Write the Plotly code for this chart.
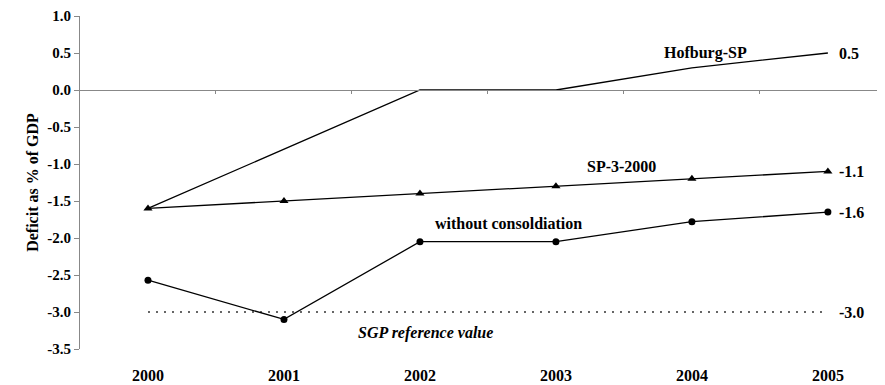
import plotly.graph_objects as go

years = ["2000", "2001", "2002", "2003", "2004", "2005"]
hofburg = [-1.6, -0.8, 0.0, 0.0, 0.3, 0.5]
sp_3_2000 = [-1.6, -1.5, -1.4, -1.3, -1.2, -1.1]
without_cons = [-2.57, -3.1, -2.05, -2.05, -1.78, -1.65]
sgp_ref = [-3.0] * 6
end_labels = ["0.5", "-1.1", "-1.6", "-3.0"]
y_ticks = [1.0, 0.5, 0.0, -0.5, -1.0, -1.5, -2.0, -2.5, -3.0, -3.5]

FONT = "Liberation Serif"
xi = list(range(len(years)))
Y0, Y1 = -3.5, 1.0

fig = go.Figure()
fig.add_trace(go.Scatter(x=xi, y=sgp_ref, mode="lines",
                         line=dict(color="#333333", width=1.3, dash="2px,6px"), showlegend=False))
fig.add_trace(go.Scatter(x=xi, y=hofburg, mode="lines",
                         line=dict(color="black", width=1.3), showlegend=False))
fig.add_trace(go.Scatter(x=xi, y=sp_3_2000, mode="lines+markers",
                         line=dict(color="black", width=1.3),
                         marker=dict(symbol="triangle-up", size=8, color="black"), showlegend=False))
fig.add_trace(go.Scatter(x=xi, y=without_cons, mode="lines+markers",
                         line=dict(color="black", width=1.3),
                         marker=dict(symbol="circle", size=7, color="black"), showlegend=False))

bold = dict(family=FONT, size=16, color="black", weight="bold")
annos = [
    dict(x=4.1, y=0.5, text="Hofburg-SP"),
    dict(x=3.48, y=-1.03, text="SP-3-2000"),
    dict(x=2.65, y=-1.81, text="without consoldiation"),
    dict(x=2.04, y=-3.28, text="<i>SGP reference value</i>"),
]
for a in annos:
    fig.add_annotation(xref="x", yref="y", showarrow=False, xanchor="center",
                       yanchor="middle", font=bold, **a)

last_vals = [hofburg[-1], sp_3_2000[-1], without_cons[-1], sgp_ref[-1]]
for v, t in zip(last_vals, end_labels):
    fig.add_annotation(x=5, y=v, xref="x", yref="y", text=t, showarrow=False,
                       xanchor="left", xshift=9, yanchor="middle", font=bold)

zero_pos = (0 - Y0) / (Y1 - Y0)

fig.update_layout(
    width=877, height=377,
    margin=dict(l=72, r=0, t=8, b=36),
    paper_bgcolor="white", plot_bgcolor="white",
    font=dict(family=FONT, size=16, color="black"),
    xaxis=dict(range=[-0.5, 5.42], tickvals=xi, ticktext=years,
               showgrid=False, zeroline=False, showline=False,
               ticks="outside", ticklen=12, tickcolor="rgba(0,0,0,0)",
               tickfont=dict(family=FONT, size=16, color="black", weight="bold")),
    xaxis2=dict(range=[-0.5, 5.42], overlaying="x", anchor="free", position=zero_pos,
                side="bottom", showgrid=False, zeroline=False,
                showline=True, linecolor="#888888", linewidth=1,
                tickvals=[i + 0.5 for i in xi[:-1]], showticklabels=False,
                ticks="outside", ticklen=3, tickcolor="#888888"),
    yaxis=dict(range=[Y0, Y1], tickvals=y_ticks,
               ticktext=["%.1f" % v for v in y_ticks],
               showgrid=False, zeroline=False,
               showline=True, linecolor="#888888", linewidth=1,
               ticks="outside", ticklen=5, tickcolor="#888888",
               tickfont=dict(family=FONT, size=15, color="black", weight="bold"),
               title=dict(text="Deficit as % of GDP", standoff=4,
                          font=dict(family=FONT, size=16, color="black", weight="bold"))),
)
fig.add_trace(go.Scatter(x=[0], y=[0], xaxis="x2", mode="markers",
                         marker=dict(opacity=0), hoverinfo="skip", showlegend=False))

fig.write_html("out.html")
